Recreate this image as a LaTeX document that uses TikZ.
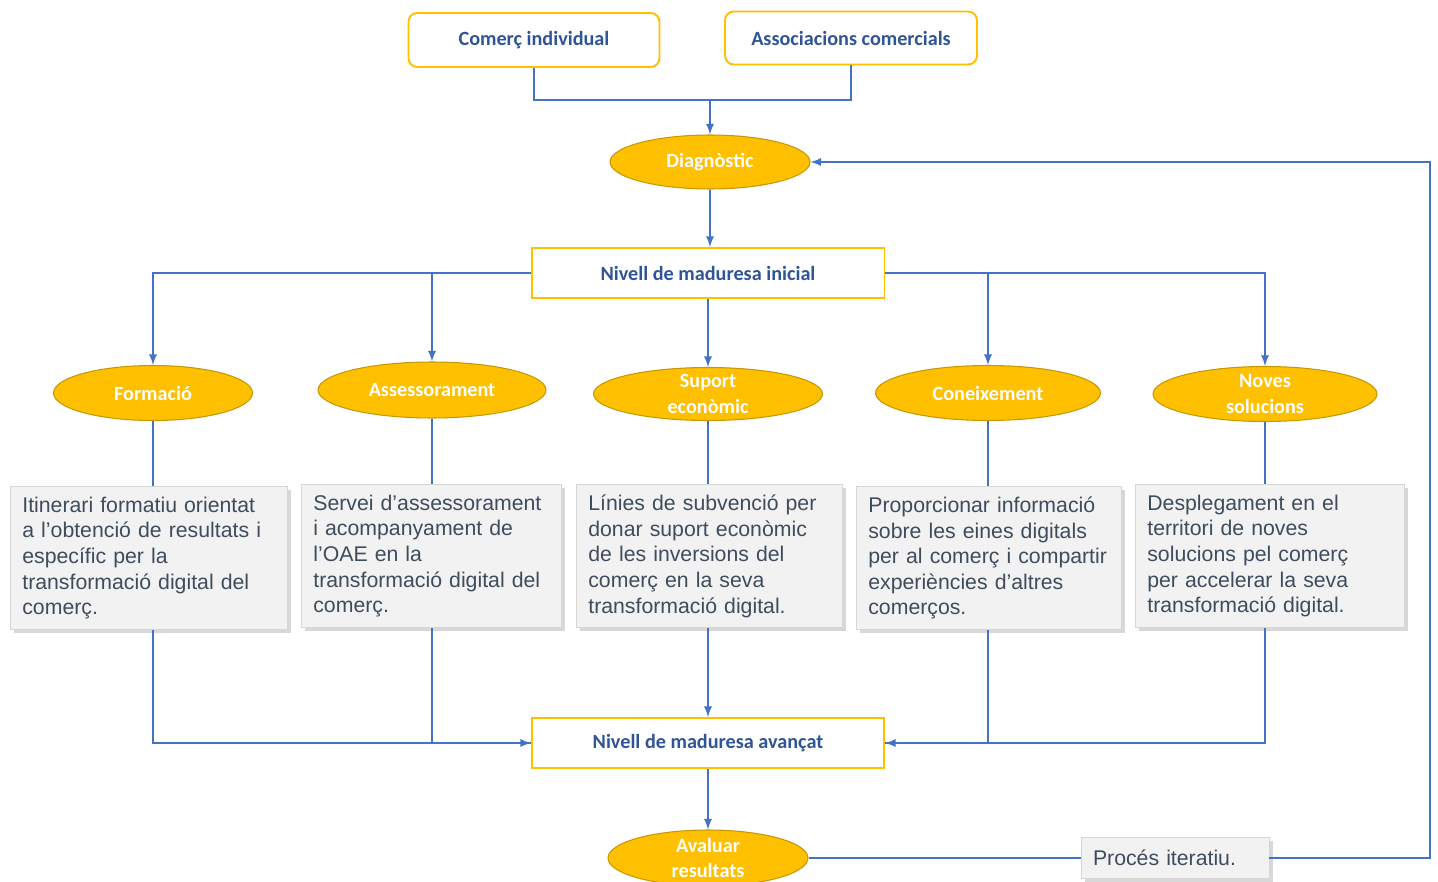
\documentclass[tikz,border=0pt]{standalone}
\usepackage{fontspec}
\setmainfont{Carlito}
\newfontfamily\bodyfont{Liberation Sans}
\usetikzlibrary{shapes.geometric,shadows}
\definecolor{linkblue}{HTML}{4472C4}
\definecolor{gold}{HTML}{FFC000}
\definecolor{goldedge}{HTML}{C99700}
\definecolor{labelblue}{HTML}{2F5597}
\definecolor{bodyslate}{HTML}{3E4C5E}
\hyphenpenalty=10000
\tikzset{stage/.style={
  ellipse,
  fill=gold,draw=goldedge,line width=0.6pt,
  inner xsep=0pt,inner ysep=-0.2cm,
  text width=2.8cm,text=white,align=center,
  font=\bfseries\fontsize{11.5}{14.6}\selectfont}}
\tikzset{level/.style={
  rectangle,
  draw=gold,line width=1.1pt,fill=white,
  inner sep=0pt,text=labelblue,
  font=\bfseries\fontsize{11.5}{14}\selectfont}}
\tikzset{actor/.style={level,rounded corners=5pt}}
\tikzset{detail/.style={
  rectangle,
  draw=black!16,fill=black!5,
  drop shadow={shadow xshift=2pt,shadow yshift=-2pt,opacity=0.3},
  inner xsep=0.24cm,inner ysep=0pt,
  text=bodyslate,align=left,
  font=\bodyfont\fontsize{12.1}{14.6}\selectfont}}
\tikzset{link/.style={draw=linkblue,line width=1.1pt}}
\tikzset{>=latex}

\begin{document}
\begin{tikzpicture}[x=0.02cm,y=-0.02cm]
  \useasboundingbox[fill=white] (0,0) rectangle (1438,882);
  % who starts the process
  \node[actor,minimum width=5.02cm,minimum height=1.08cm] (com) at (534,40) {Comerç individual};
  \node[actor,minimum width=5.04cm,minimum height=1.06cm] (assoc) at (851,38) {Associacions comercials};
  \node[stage,minimum width=4cm,minimum height=1.08cm] (diag) at (710,162) {Diagnòstic};
  \node[level,minimum width=7.06cm,minimum height=1cm] (ini) at (708,273) {Nivell de maduresa inicial};
  \node[level,minimum width=7.04cm,minimum height=1cm] (adv) at (708,743) {Nivell de maduresa avançat};
  \node[stage,minimum width=4cm,minimum height=1.12cm] (eval) at (708,858) {Avaluar\\resultats};
  \node[detail,text width=3.28cm,minimum height=0.82cm] (iter) at (1175,858) {Procés iteratiu.};
  % the five lines of action
  \foreach \nd/\ps/\wdt/\hgt/\txt in {
      form/{(153,393)}/3.98/1.1/{Formació},
      ass/{(432,390)}/4.56/1.12/{Assessorament},
      sup/{(708,394)}/4.58/1.06/{Suport\\econòmic},
      con/{(988,393)}/4.5/1.1/{Coneixement},
      noves/{(1265,394)}/4.48/1.1/{Noves\\solucions} }
    \node[stage,minimum width=\wdt cm,minimum height=\hgt cm] (\nd) at \ps {\txt};
  \foreach \nd/\ps/\wdt/\txt in {
      d1/{(10,486)}/5.06/{Itinerari formatiu orientat\\a l’obtenció de resultats i\\específic per la\\transformació digital del\\comerç.},
      d2/{(301,484)}/4.72/{Servei d’assessorament\\i acompanyament de\\l’OAE en la\\transformació digital del\\comerç.},
      d3/{(576,484)}/4.84/{Línies de subvenció per\\donar suport econòmic\\de les inversions del\\comerç en la seva\\transformació digital.},
      d4/{(856,486)}/4.82/{Proporcionar informació\\sobre les eines digitals\\per al comerç i compartir\\experiències d’altres\\comerços.},
      d5/{(1135,484)}/4.9/{Desplegament en el\\territori de noves\\solucions pel comerç\\per accelerar la seva\\transformació digital.} }
    \node[detail,anchor=north west,text width=\wdt cm,minimum height=2.87cm] (\nd) at \ps {\txt};
  % connectors
  \coordinate (join) at (710,100);
  \coordinate (back) at (1430,162);
  \draw[link] (com.south) |- (join) -| (assoc.south);
  \draw[link,->] (join) -- (diag.north);
  \draw[link,->] (diag.south) -- (diag.south |- ini.north);
  \draw[link,->] (ini.west) -| (form.north);
  \draw[link,->] (ass.north |- ini.west) -- (ass.north);
  \draw[link,->] (ini) -- (sup);
  \draw[link,->] (ini.east) -| (noves.north);
  \draw[link,->] (con.north |- ini.east) -- (con.north);
  \foreach \m/\n in {form/d1,ass/d2,sup/d3,con/d4,noves/d5}
    \draw[link] (\m.south) -- (\m.south |- \n.north);
  \draw[link,->] (form.south |- d1.south) |- (adv.west);
  \draw[link] (ass.south |- d2.south) |- (adv.west);
  \draw[link,->] (sup.south |- d3.south) -- (adv.north);
  \draw[link,->] (con.south |- d4.south) |- (adv.east);
  \draw[link] (noves.south |- d5.south) |- (adv.east);
  \draw[link,->] (adv) -- (eval);
  \draw[link] (eval.east) -- (iter.west);
  \draw[link,->] (iter.east) -| (back) -- (diag.east);
\end{tikzpicture}
\end{document}
